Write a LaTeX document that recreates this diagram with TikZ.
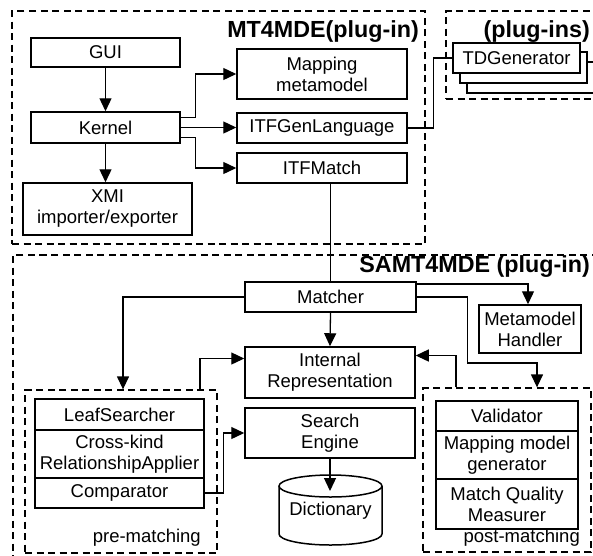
\documentclass[tikz,border=0pt]{standalone}
\usepackage{fontspec}
\setmainfont{Liberation Sans}
\usetikzlibrary{arrows.meta,calc}

\tikzset{
  txt/.style={font=\fontsize{18.5}{21}\selectfont, align=center},
  box/.style={txt, draw, line width=1.5pt, fill=white, inner sep=0pt},
  group/.style={draw, line width=1.3pt, dash pattern=on 7pt off 4.5pt, inner sep=0pt},
  title/.style={font=\fontsize{23.3}{26}\selectfont\bfseries, inner sep=0pt},
  link/.style={line width=1.3pt},
  arr/.style={link, -{Triangle[length=13pt,width=12pt]}},
}

\begin{document}
\begin{tikzpicture}[x=1pt,y=-1pt]
\path[use as bounding box, clip] (0,0) rectangle (593,555);
\fill[white] (0,0) rectangle (593,555);

% ---------- plug-in groups ----------
\node[group, minimum width=413pt, minimum height=233pt] (mtgroup) at (218.5,127.5) {};
\node[group, minimum width=160pt, minimum height=88pt] (plugins) at (526,55) {};
\node[group, minimum width=590pt, minimum height=360pt] (samtgroup) at (308,435) {};
\node[group, minimum width=192pt, minimum height=163pt] (prebox) at (121,471.5) {};
\node[group, minimum width=168pt, minimum height=164pt] (postbox) at (507,470) {};

\node[title, anchor=east] (mttitle) at (419,32) {MT4MDE(plug-in)};
\node[title, anchor=east] (pititle) at (590,32) {(plug-ins)};
\node[title, anchor=east] (samttitle) at (590,267) {SAMT4MDE (plug-in)};

% ---------- MT4MDE components ----------
\node[box, minimum width=149pt, minimum height=29pt] (gui) at (105.5,52.5) {GUI};
\node[box, minimum width=149pt, minimum height=31pt] (kernel) at (105.5,127.5) {Kernel};
\node[box, minimum width=169pt, minimum height=52pt] (xmi) at (107.5,209) {XMI\\importer/exporter};
\node[box, minimum width=170pt, minimum height=50pt] (mapmm) at (322,74) {Mapping\\metamodel};
\node[box, minimum width=170pt, minimum height=30pt] (itfgen) at (322,128) {ITFGenLanguage};
\node[box, minimum width=170pt, minimum height=30pt] (itfmatch) at (322,168) {ITFMatch};

% ---------- generator plug-ins (stacked) ----------
\node[box, minimum width=127pt, minimum height=31pt] (tdgen3) at (530.5,77.5) {};
\node[box, minimum width=127pt, minimum height=31pt] (tdgen2) at (523.5,67.5) {};
\node[box, minimum width=127pt, minimum height=30pt] (tdgen) at (516.5,58) {TDGenerator};

% ---------- SAMT4MDE components ----------
\node[box, minimum width=171pt, minimum height=30pt] (matcher) at (330.5,297) {Matcher};
\node[box, minimum width=102pt, minimum height=48pt] (mmhandler) at (530,329) {Metamodel\\Handler};
\node[box, minimum width=170pt, minimum height=51pt] (intrep) at (330,372.5) {Internal\\Representation};
\node[box, minimum width=170pt, minimum height=50pt] (search) at (330,433) {Search\\Engine};

% dictionary cylinder
\draw[line width=1.5pt, fill=white] (279,486) -- (279,534)
  arc[start angle=180, end angle=360, x radius=51.5pt, y radius=11pt] -- (382,486);
\draw[line width=1.5pt, fill=white] (330.5,486) ellipse[x radius=51.5pt, y radius=11pt];
\node[txt, inner sep=0pt] (dict) at (330.5,511) {Dictionary};
\coordinate (dicttop) at (330,491);

% pre-matching stack
\node[box, minimum width=169pt, minimum height=31pt] (leaf) at (119.5,414.5) {LeafSearcher};
\node[box, minimum width=169pt, minimum height=48pt] (cross) at (119.5,454) {Cross-kind\\RelationshipApplier};
\node[box, minimum width=169pt, minimum height=30pt] (comp) at (119.5,493) {Comparator};
\node[txt, anchor=east, inner sep=0pt] (prelabel) at (201,538) {pre-matching};

% post-matching stack
\node[box, minimum width=142pt, minimum height=30pt] (valid) at (507,416) {Validator};
\node[box, minimum width=142pt, minimum height=48pt] (mmgen) at (507,455) {Mapping model\\generator};
\node[box, minimum width=142pt, minimum height=50pt] (mqm) at (507,504) {Match Quality\\Measurer};
\node[txt, anchor=east, inner sep=0pt] (postlabel) at (580,538) {post-matching};

% ---------- connectors ----------
\draw[arr] (gui.south) -- (kernel.north);
\draw[arr] (kernel.south) -- (kernel.south |- xmi.north);
\draw[arr] ([yshift=10pt]kernel.east) -- ++(15,0) |- (mapmm.west);
\draw[arr] (kernel.east) -- (kernel.east -| itfgen.west);
\draw[arr] ([yshift=-10pt]kernel.east) -- ++(15,0) |- (itfmatch.west);
\draw[link] (itfgen.east) -- ++(26,0) |- (tdgen.west);
\draw[link] (matcher.north |- itfmatch.south) -- (matcher.north);

\draw[arr] (matcher.south) -- (intrep.north);
\draw[arr] (matcher.west) -| ([xshift=2pt]prebox.north);
\draw[arr] ([xshift=79pt]prebox.north) |- ([yshift=14pt]intrep.west);
\draw[arr] (comp.east) -- ++(19,0) |- (search.west);
\draw[arr] (search.south) -- (dicttop);
\draw[arr] ([yshift=13pt]matcher.east) -| ([xshift=-2pt]mmhandler.north);
\draw[arr] (matcher.east) -- ++(51,0) -- ++(0,66) -| ([xshift=30pt]postbox.north);
\draw[arr] ([xshift=-51pt]postbox.north) |- ([yshift=17pt]intrep.east);
\end{tikzpicture}
\end{document}
